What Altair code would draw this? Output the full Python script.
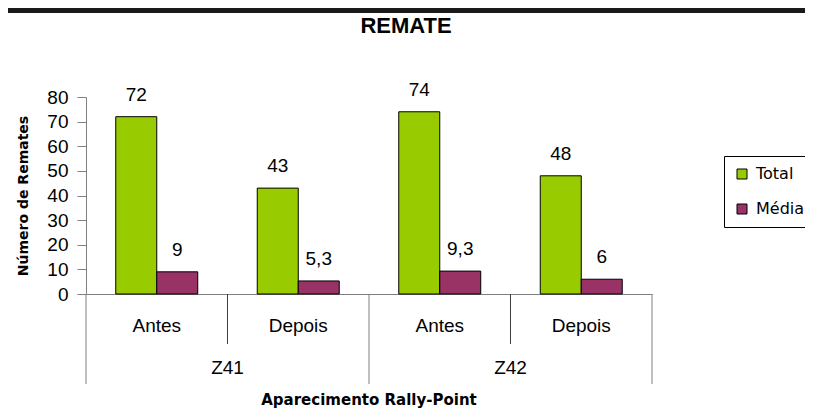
import altair as alt
import pandas as pd

groups = ["Z41", "Z41", "Z42", "Z42"]
periods = ["Antes", "Depois", "Antes", "Depois"]
total = [72, 43, 74, 48]
media = [9, 5.3, 9.3, 6]
series = ["Total", "Média"]
colors = ["#99CC00", "#993366"]
y_ticks = [0, 10, 20, 30, 40, 50, 60, 70, 80]

W, H = 566, 197
cats = [f"{g} {p}" for g, p in zip(groups, periods)]


def fmt(v):
    return str(int(v)) if float(v).is_integer() else str(v).replace(".", ",")


rows = []
for c, t, m in zip(cats, total, media):
    rows.append({"cat": c, "series": "Total", "value": t, "label": fmt(t)})
    rows.append({"cat": c, "series": "Média", "value": m, "label": fmt(m)})
df = pd.DataFrame(rows)

xscale = alt.Scale(domain=cats, paddingInner=0, paddingOuter=0)
xoff = alt.XOffset("series:N", sort=series,
                   scale=alt.Scale(domain=series, paddingInner=0, paddingOuter=0.726))
yaxis = alt.Axis(values=y_ticks, tickCount=9, title="Número de Remates",
                 titleFont="DejaVu Sans", titleFontSize=14, titleFontWeight="bold",
                 titleColor="black", titlePadding=16,
                 labelFont="Liberation Sans", labelFontSize=19, labelColor="black",
                 labelOverlap=False, labelBound=False,
                 labelPadding=9, tickSize=9, tickColor="#808080",
                 domainColor="#808080", grid=False)
yenc = alt.Y("value:Q", scale=alt.Scale(domain=[0, 80], nice=False), axis=yaxis)

bars = alt.Chart(df).mark_bar(stroke="black", strokeWidth=1).encode(
    x=alt.X("cat:N", scale=xscale, sort=cats,
            axis=alt.Axis(labels=False, ticks=False, title=None, domainColor="#808080")),
    xOffset=xoff,
    y=yenc,
    color=alt.Color("series:N", sort=series,
                    scale=alt.Scale(domain=series, range=colors),
                    legend=alt.Legend(title=None, orient="none", legendX=638, legendY=59,
                                      strokeColor="black", fillColor="white", padding=10,
                                      symbolType="square", symbolSize=100,
                                      symbolStrokeColor="black", symbolStrokeWidth=1,
                                      labelFont="DejaVu Sans", labelFontSize=16,
                                      labelColor="black", labelOffset=6, rowPadding=19)),
)

labels = alt.Chart(df).mark_text(font="Liberation Sans", fontSize=19, color="black",
                                 baseline="alphabetic", dy=-16).encode(
    x=alt.X("cat:N", scale=xscale, sort=cats),
    xOffset=xoff,
    y=yenc,
    text="label:N",
)

cat_df = pd.DataFrame({"cat": cats, "period": periods})
period_text = alt.Chart(cat_df).mark_text(font="Liberation Sans", fontSize=19, color="black",
                                          baseline="middle").encode(
    x=alt.X("cat:N", scale=xscale, sort=cats),
    y=alt.value(H + 32),
    text="period:N",
)

grp_df = pd.DataFrame({"cat": [cats[0], cats[2]], "group": [groups[0], groups[2]]})
group_text = alt.Chart(grp_df).mark_text(font="Liberation Sans", fontSize=19, color="black",
                                         baseline="middle").encode(
    x=alt.X("cat:N", scale=xscale, sort=cats, bandPosition=1),
    y=alt.value(H + 74),
    text="group:N",
)

inner_df = pd.DataFrame({"cat": [cats[1], cats[3]]})
inner_rules = alt.Chart(inner_df).mark_rule(color="#404040", strokeWidth=1).encode(
    x=alt.X("cat:N", scale=xscale, sort=cats, bandPosition=0),
    y=alt.value(H), y2=alt.value(H + 50),
)

outer_df = pd.DataFrame({"cat": [cats[0], cats[2]]})
outer_rules = alt.Chart(outer_df).mark_rule(color="#808080", strokeWidth=1).encode(
    x=alt.X("cat:N", scale=xscale, sort=cats, bandPosition=0),
    y=alt.value(H), y2=alt.value(H + 90),
)
end_df = pd.DataFrame({"cat": [cats[3]]})
end_rule = alt.Chart(end_df).mark_rule(color="#808080", strokeWidth=1).encode(
    x=alt.X("cat:N", scale=xscale, sort=cats, bandPosition=1),
    y=alt.value(H), y2=alt.value(H + 90),
)

title_df = pd.DataFrame({"t": ["REMATE"]})
title = alt.Chart(title_df).mark_text(font="Liberation Sans", fontSize=22, fontWeight="bold",
                                      color="black", baseline="alphabetic").encode(
    x=alt.value(320), y=alt.value(-64), text="t:N")

xt_df = pd.DataFrame({"t": ["Aparecimento Rally-Point"]})
xtitle = alt.Chart(xt_df).mark_text(font="DejaVu Sans", fontSize=15, fontWeight="bold",
                                    color="black", baseline="alphabetic").encode(
    x=alt.value(283), y=alt.value(H + 111), text="t:N")

topbar = alt.Chart(title_df).mark_rect(color="#1a1a1a").encode(
    x=alt.value(-78), x2=alt.value(W + 153), y=alt.value(-89), y2=alt.value(-84))

chart = alt.layer(topbar, bars, labels, inner_rules, outer_rules, end_rule,
                  period_text, group_text, title, xtitle).properties(
    width=W, height=H,
    background="white",
    autosize=alt.AutoSizeParams(type="none"),
    padding={"left": 78, "top": 89, "right": 153, "bottom": 115},
).configure_view(stroke=None)

chart.save("out.html", embed_options={"renderer": "svg", "actions": False})
